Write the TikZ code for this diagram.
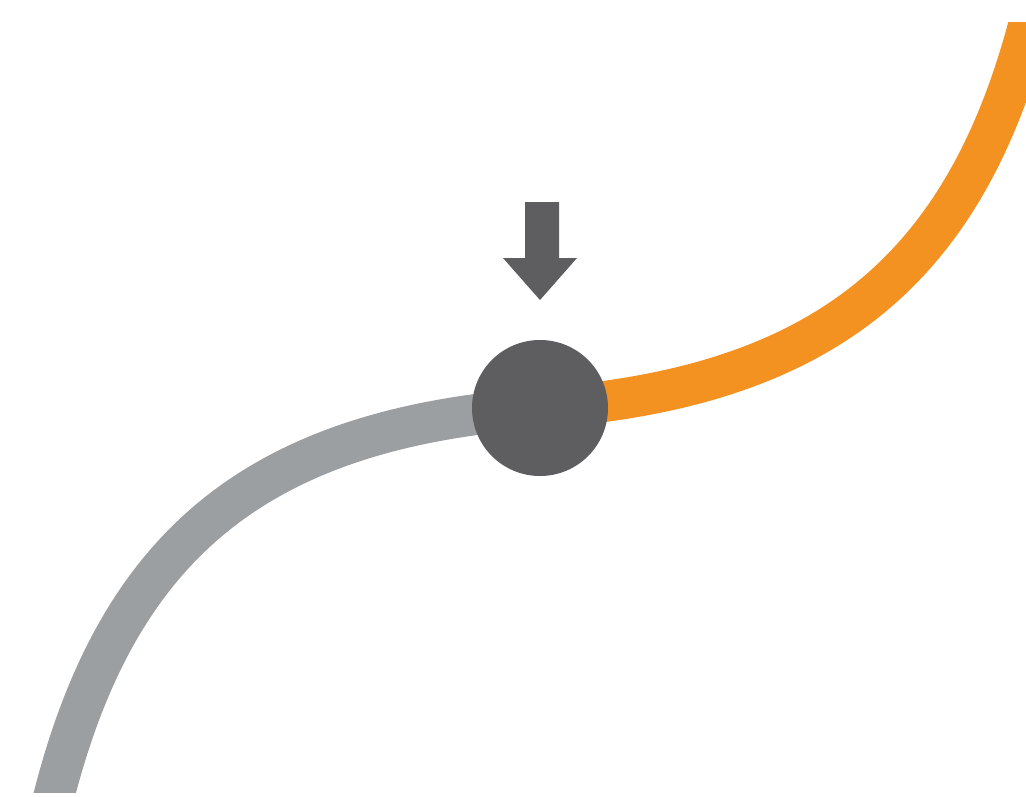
\documentclass[tikz,border=0pt]{standalone}
\definecolor{curvegrey}{HTML}{9B9FA2}
\definecolor{curveorange}{HTML}{F39121}
\definecolor{hubgrey}{HTML}{5E5E60}
\tikzset{
  greyline/.style={draw=curvegrey, line width=41pt, line cap=butt},
  orangeline/.style={draw=curveorange, line width=41pt, line cap=butt},
  hubnode/.style={circle, fill=hubgrey, inner sep=0pt, minimum size=136pt},
  pointer/.style={fill=hubgrey}
}
\begin{document}
\begin{tikzpicture}[x=1pt,y=-1pt]
\useasboundingbox (0,0) rectangle (1026,796);
\coordinate (c) at (540,408);
\coordinate (gstart) at (48.7,816);
\coordinate (oend) at (1035.4,0);
\begin{scope}
  \clip (0,22) rectangle (1026,792);
  \draw[greyline] (gstart) -- (55,792) .. controls (119,547) and (255,428) .. (c);
  \draw[orangeline] (c) .. controls (825,388) and (964,269) .. (1029,24) -- (oend);
\end{scope}
\node[hubnode] (hub) at (c) {};
\fill[pointer] (525,202) -- (559,202) -- (559,258) -- (577,258) -- (540,300) -- (503,258) -- (525,258) -- cycle;
\end{tikzpicture}
\end{document}
